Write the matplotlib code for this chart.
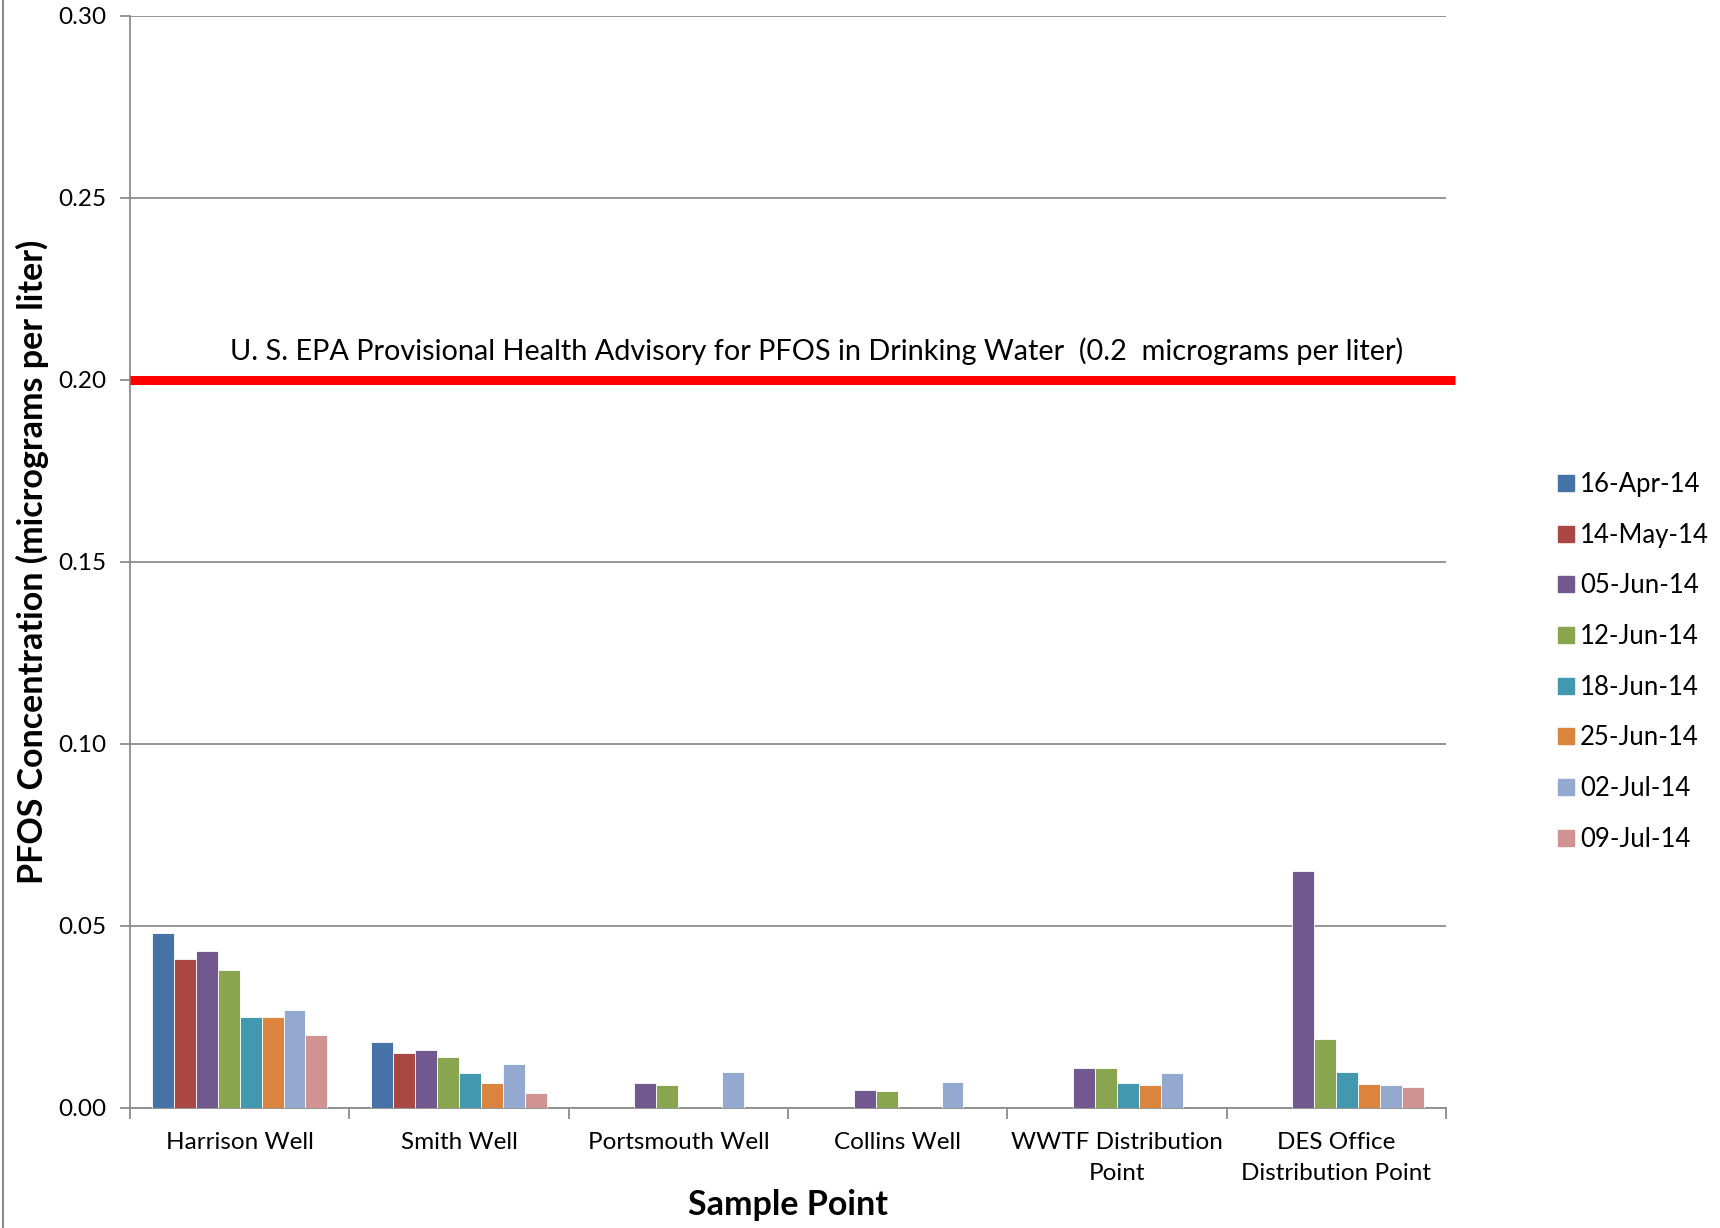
import numpy as np
import matplotlib
matplotlib.use('Agg')
import matplotlib.pyplot as plt
from matplotlib.lines import Line2D

plt.rcParams['font.family'] = ['Lato', 'DejaVu Sans']

# точки отбора проб
sites = ['Harrison Well', 'Smith Well', 'Portsmouth Well', 'Collins Well',
         'WWTF Distribution\nPoint', 'DES Office\nDistribution Point']
dates = ['16-Apr-14', '14-May-14', '05-Jun-14', '12-Jun-14',
         '18-Jun-14', '25-Jun-14', '02-Jul-14', '09-Jul-14']
colors = ['#4572A7', '#AA4643', '#71588F', '#89A54E',
          '#4198AF', '#DB843D', '#93A9CF', '#D19392']

nan = np.nan
# значения PFOS по датам (мкг/л), nan - нет пробы
apr16 = [0.048, 0.018, nan, nan, nan, nan]
may14 = [0.041, 0.015, nan, nan, nan, nan]
jun05 = [0.043, 0.016, 0.0068, 0.005, 0.011, 0.065]
jun12 = [0.038, 0.014, 0.0064, 0.0048, 0.011, 0.019]
jun18 = [0.025, 0.0095, nan, nan, 0.0068, 0.0099]
jun25 = [0.025, 0.007, nan, nan, 0.0064, 0.0065]
jul02 = [0.027, 0.012, 0.010, 0.0071, 0.0097, 0.0063]
jul09 = [0.020, 0.004, nan, nan, nan, 0.0058]
series = [apr16, may14, jun05, jun12, jun18, jun25, jul02, jul09]

advisory = 0.2
yticks = [0.0, 0.05, 0.10, 0.15, 0.20, 0.25, 0.30]

fig = plt.figure(figsize=(17.2, 12.28), dpi=100)
ax = fig.add_axes([130/1720, 1-1108/1228, (1446-130)/1720, (1108-16)/1228])

x = np.arange(len(sites))
w = 0.1
for i, (vals, c, d) in enumerate(zip(series, colors, dates)):
    ax.bar(x + (i-3.5)*w, vals, w, color=c, edgecolor='white', linewidth=0.6, label=d, zorder=3)

ax.set_xlim(-0.5, len(sites)-0.5)
ax.set_ylim(0, 0.30)
ax.set_yticks(yticks)
ax.set_yticklabels(['%.2f' % v for v in yticks])
ax.grid(axis='y', color='#8c8c8c', linewidth=1.3, zorder=0)
ax.set_xticks(x)
ax.set_xticklabels(sites, fontsize=17.5, linespacing=1.6)
ax.set_xticks(np.arange(len(sites)+1)-0.5, minor=True)
ax.tick_params(axis='x', which='major', length=0, pad=17)
ax.tick_params(axis='x', which='minor', length=8, width=1.3, color='#8c8c8c', direction='out')
ax.tick_params(axis='y', length=7, width=1.3, color='#8c8c8c', labelsize=17.5, pad=10)
for s in ['top', 'right']:
    ax.spines[s].set_visible(False)
for s in ['left', 'bottom']:
    ax.spines[s].set_color('#8c8c8c')
    ax.spines[s].set_linewidth(1.3)

# линия рекомендации EPA
ax.plot([-0.5, 5.54], [advisory, advisory], color='#ff0000', linewidth=6.5, clip_on=False, zorder=4, solid_capstyle='butt')
ax.text(2.63, advisory + 0.004,
        'U. S. EPA Provisional Health Advisory for PFOS in Drinking Water  (0.2  micrograms per liter)',
        ha='center', va='bottom', fontsize=20.8)

ax.set_ylabel('PFOS Concentration (micrograms per liter)', fontsize=24.5, fontweight='bold', labelpad=7)
ax.set_xlabel('Sample Point', fontsize=24.5, fontweight='bold', labelpad=4)

handles = [Line2D([], [], marker='s', linestyle='none', markersize=11.5, color=c) for c in colors]
fig.legend(handles, dates, loc='upper left', bbox_to_anchor=(0.897, 0.624), frameon=False,
           fontsize=18.5, labelspacing=1.0, handletextpad=0.05, handlelength=1.0, borderaxespad=0)

fig.add_artist(Line2D([0.0015, 0.0015], [0, 1], color='#8c8c8c', linewidth=1.5))

fig.savefig('out.png', dpi=100)
